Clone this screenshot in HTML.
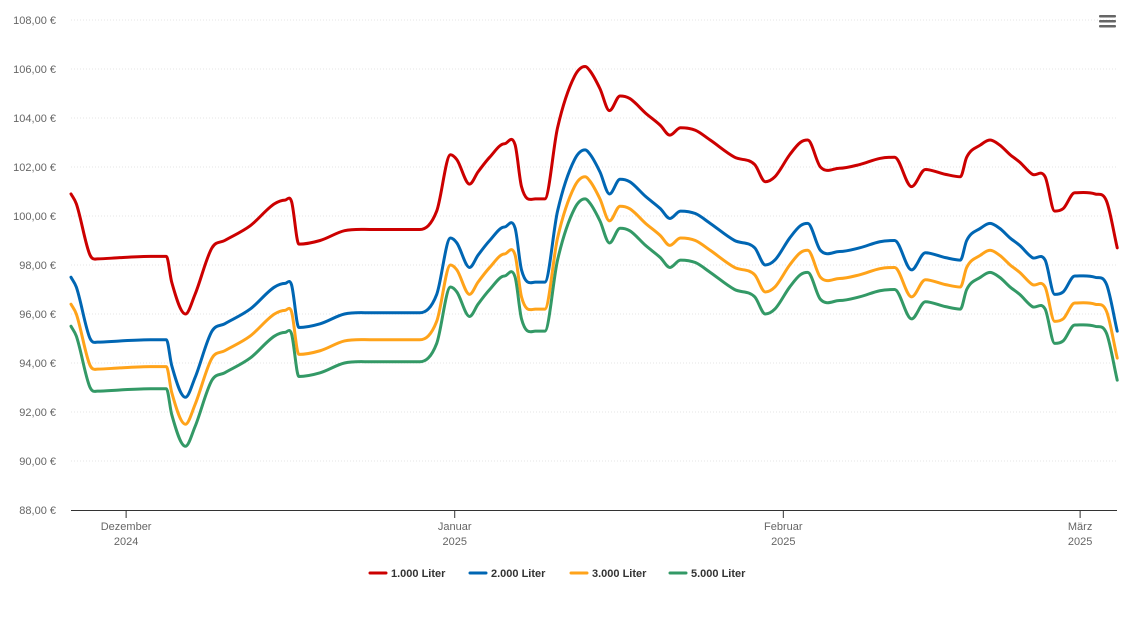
<!DOCTYPE html>
<html><head><meta charset="utf-8"><style>
body{margin:0;background:#fff;font-family:"Liberation Sans",sans-serif;}
svg text{font-family:"Liberation Sans",sans-serif;}
</style></head><body>
<svg id="chart" width="1129" height="615" xmlns="http://www.w3.org/2000/svg">
<g id="grid"></g>
<g id="yaxis"></g>
<g id="xaxis"></g>
<g id="series"></g>
<g id="legend"></g>
<g fill="#666">
<rect x="1099" y="15" width="17" height="2.5" rx="1"/><rect x="1099" y="20" width="17" height="2.5" rx="1"/><rect x="1099" y="25" width="17" height="2.5" rx="1"/>
</g>
</svg>
<script>
const days=[0,0.5,1.8,2.5,4.6,7.5,9.0,9.5,10.8,11.7,13.3,14.5,16.9,19.2,20.2,20.8,21.5,23.5,25.8,28.2,32.9,34.5,35.8,36.4,37.6,38.4,39.5,40.9,41.9,42.5,43.8,44.7,45.9,47.5,48.5,49.0,49.9,50.8,51.8,52.7,54.2,55.6,56.5,57.5,58.9,60.3,62.6,64.5,65.5,66.4,67.8,68.8,69.5,70.7,72.5,74.4,76.3,77.7,79.3,80.6,82.5,83.9,84.5,85.8,86.7,87.6,88.6,89.5,90.7,91.9,92.8,93.6,94.7,96.6,97.7,98.7];
const red=[100.9,100.5,98.4,98.25,98.3,98.35,98.35,97.3,96.0,96.8,98.7,99.0,99.6,100.5,100.65,100.6,98.85,99.0,99.4,99.45,99.45,100.2,102.5,102.3,101.3,101.8,102.4,102.95,102.9,101.2,100.7,100.7,103.6,105.7,106.1,105.9,105.2,104.3,104.9,104.8,104.2,103.7,103.3,103.6,103.5,103.1,102.4,102.1,101.4,101.6,102.5,103.0,103.1,102.0,101.95,102.1,102.35,102.4,101.2,101.9,101.7,101.6,102.4,102.9,103.1,102.9,102.5,102.2,101.7,101.6,100.2,100.3,100.95,100.9,100.6,98.7];
const blue=[97.5,97.1,95.0,94.85,94.9,94.95,94.95,93.9,92.6,93.4,95.3,95.6,96.2,97.1,97.25,97.2,95.45,95.6,96.0,96.05,96.05,96.8,99.1,98.9,97.9,98.4,99.0,99.55,99.5,97.8,97.3,97.3,100.2,102.3,102.7,102.5,101.8,100.9,101.5,101.4,100.8,100.3,99.9,100.2,100.1,99.7,99.0,98.7,98.0,98.2,99.1,99.6,99.7,98.6,98.55,98.7,98.95,99.0,97.8,98.5,98.3,98.2,99.0,99.5,99.7,99.5,99.1,98.8,98.3,98.2,96.8,96.9,97.55,97.5,97.2,95.3];
const orange=[96.4,96.0,93.9,93.75,93.8,93.85,93.85,92.8,91.5,92.3,94.2,94.5,95.1,96.0,96.15,96.1,94.35,94.5,94.9,94.95,94.95,95.7,98.0,97.8,96.8,97.3,97.9,98.45,98.4,96.7,96.2,96.2,99.1,101.2,101.6,101.4,100.7,99.8,100.4,100.3,99.7,99.2,98.8,99.1,99.0,98.6,97.9,97.6,96.9,97.1,98.0,98.5,98.6,97.5,97.45,97.6,97.85,97.9,96.7,97.4,97.2,97.1,97.9,98.4,98.6,98.4,98.0,97.7,97.2,97.1,95.7,95.8,96.45,96.4,96.1,94.2];
const green=[95.5,95.1,93.0,92.85,92.9,92.95,92.95,91.9,90.6,91.4,93.3,93.6,94.2,95.1,95.25,95.2,93.45,93.6,94.0,94.05,94.05,94.8,97.1,96.9,95.9,96.4,97.0,97.55,97.5,95.8,95.3,95.3,98.2,100.3,100.7,100.5,99.8,98.9,99.5,99.4,98.8,98.3,97.9,98.2,98.1,97.7,97.0,96.7,96.0,96.2,97.1,97.6,97.7,96.6,96.55,96.7,96.95,97.0,95.8,96.5,96.3,96.2,97.0,97.5,97.7,97.5,97.1,96.8,96.3,96.2,94.8,94.9,95.55,95.5,95.2,93.3];
const yTicks=[88,90,92,94,96,98,100,102,104,106,108];
const monthLabels=["Dezember","Januar","Februar","März"];
const yearLabels=["2024","2025","2025","2025"];
const monthDays=[5.2,36.2,67.2,95.2];
const seriesNames=["1.000 Liter","2.000 Liter","3.000 Liter","5.000 Liter"];
const seriesColors=["#cc0000","#0066b3","#ffa31a","#339966"];
const NS="http://www.w3.org/2000/svg";
const X0=71,X1=1117,PX=10.6;
const x=d=>X0+d*PX;
const y=v=>510-(v-88)*24.5;
function mk(t,a,p){const e=document.createElementNS(NS,t);for(const k in a)e.setAttribute(k,a[k]);p.appendChild(e);return e;}
const grid=document.getElementById('grid'),ya=document.getElementById('yaxis'),xa=document.getElementById('xaxis');
yTicks.forEach(v=>{
  if(v>88){const l=mk('line',{x1:X0,x2:X1,y1:y(v),y2:y(v),stroke:'#e6e6e6','stroke-dasharray':'1,2'},grid);
  
  }
  const t=mk('text',{x:56,y:y(v)+4,'text-anchor':'end','font-size':11,fill:'#666'},ya);
  t.textContent=v.toFixed(2).replace('.',',')+' €';
  
  
});
mk('line',{x1:X0,x2:X1,y1:510.5,y2:510.5,stroke:'#333','stroke-width':1},xa);
monthLabels.forEach((m,i)=>{
  const px=x(monthDays[i]);
  mk('line',{x1:px,x2:px,y1:510,y2:518,stroke:'#333'},xa);
  const t=mk('text',{x:px,y:530,'text-anchor':'middle','font-size':11,fill:'#666'},xa);t.textContent=m;
  
  
  const t2=mk('text',{x:px,y:545,'text-anchor':'middle','font-size':11,fill:'#666'},xa);t2.textContent=yearLabels[i];
  
  
});
function path(vals){
  const P=days.map((d,i)=>[x(d),y(vals[i])]);const n=P.length;
  const m=[];const dl=[];
  for(let i=0;i<n-1;i++)dl.push((P[i+1][1]-P[i][1])/(P[i+1][0]-P[i][0]));
  for(let i=0;i<n;i++){if(i==0)m.push(dl[0]);else if(i==n-1)m.push(dl[n-2]);else m.push(dl[i-1]*dl[i]<=0?0:(dl[i-1]+dl[i])/2);}
  let s='M'+P[0][0]+','+P[0][1];
  for(let i=0;i<n-1;i++){const h=(P[i+1][0]-P[i][0])/3;
    s+=` C${P[i][0]+h},${P[i][1]+m[i]*h} ${P[i+1][0]-h},${P[i+1][1]-m[i+1]*h} ${P[i+1][0]},${P[i+1][1]}`;}
  return s;
}
const sg=document.getElementById('series');
const allSeries=[red,blue,orange,green];
const seriesIds=['series-1000-liter','series-2000-liter','series-3000-liter','series-5000-liter'];
allSeries.forEach((vals,i)=>{
  const p=mk('path',{d:path(vals),fill:'none',stroke:seriesColors[i],'stroke-width':3,'stroke-linejoin':'round','stroke-linecap':'round'},sg);
  
  
});
const lg=document.getElementById('legend');
const lx=[370,470,571,670];
seriesNames.forEach((n,i)=>{
  const g=mk('g',{},lg);
  
  
  mk('line',{x1:lx[i],x2:lx[i]+16,y1:573,y2:573,stroke:seriesColors[i],'stroke-width':3,'stroke-linecap':'round'},g);
  const t=mk('text',{x:lx[i]+21,y:577,'font-size':11,'font-weight':'bold',fill:'#333'},g);t.textContent=n;
});
</script>
</body></html>
